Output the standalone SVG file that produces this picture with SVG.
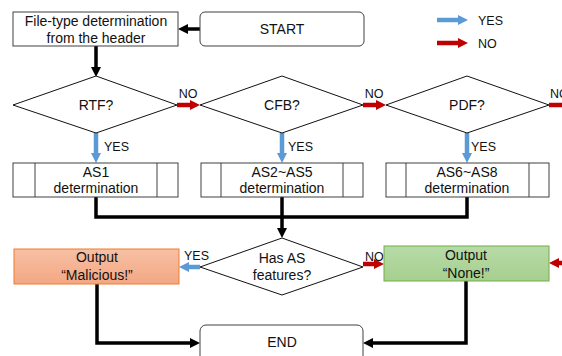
<svg xmlns="http://www.w3.org/2000/svg" width="562" height="356" viewBox="0 0 562 356">
<defs>
<style>
text{font-family:"Liberation Sans",Arial,sans-serif;fill:#111;text-anchor:middle}
.t{font-size:14px}
.l{font-size:12.5px}
.ls{text-anchor:start}
.box{fill:#fff;stroke:#404040;stroke-width:1}
.dia{fill:#fff;stroke:#111;stroke-width:1}
.blk{fill:none;stroke:#000;stroke-width:3.5;stroke-linejoin:miter}
.blue{stroke:#5B9BD5;stroke-width:4.5;fill:none}
.red{stroke:#C00000;stroke-width:4.5;fill:none}
</style>
<linearGradient id="gOr" x1="0" y1="0" x2="0" y2="1"><stop offset="0" stop-color="#F7C0A4"/><stop offset="1" stop-color="#F3A783"/></linearGradient>
<linearGradient id="gGr" x1="0" y1="0" x2="0" y2="1"><stop offset="0" stop-color="#B7DBA8"/><stop offset="1" stop-color="#A6CF8E"/></linearGradient>
<marker id="hb" viewBox="0 0 10 10" refX="0" refY="5" markerWidth="10" markerHeight="11" markerUnits="userSpaceOnUse" orient="auto"><path d="M0,0 L10,5 L0,10 z" fill="#5B9BD5"/></marker>
<marker id="hr" viewBox="0 0 10 10" refX="0" refY="5" markerWidth="10" markerHeight="11" markerUnits="userSpaceOnUse" orient="auto"><path d="M0,0 L10,5 L0,10 z" fill="#C00000"/></marker>
<marker id="hk" viewBox="0 0 10 10" refX="0" refY="5" markerWidth="10" markerHeight="11" markerUnits="userSpaceOnUse" orient="auto"><path d="M0,0 L10,5 L0,10 z" fill="#000"/></marker>
</defs>
<rect width="562" height="356" fill="#fff"/>

<g id="legend">
<line class="blue" x1="437" y1="20" x2="458" y2="20" marker-end="url(#hb)"/>
<text class="l ls" x="478" y="25">YES</text>
<line class="red" x1="437" y1="43" x2="458" y2="43" marker-end="url(#hr)"/>
<text class="l ls" x="478" y="48">NO</text>
</g>

<g id="connectors">
<line class="blk" x1="200" y1="29" x2="188" y2="29" marker-end="url(#hk)"/>
<line class="blk" x1="96" y1="46" x2="96" y2="67" marker-end="url(#hk)"/>
<line class="red" x1="177" y1="105" x2="190" y2="105" marker-end="url(#hr)"/>
<text class="l" x="188" y="98">NO</text>
<line class="red" x1="363" y1="105" x2="376" y2="105" marker-end="url(#hr)"/>
<text class="l" x="374" y="98">NO</text>
<line class="red" x1="549" y1="105" x2="562" y2="105"/>
<text class="l ls" x="550" y="98">NO</text>
<line class="blue" x1="96" y1="133" x2="96" y2="153" marker-end="url(#hb)"/>
<text class="l ls" x="104" y="151">YES</text>
<line class="blue" x1="282" y1="133" x2="282" y2="153" marker-end="url(#hb)"/>
<text class="l ls" x="288" y="151">YES</text>
<line class="blue" x1="467" y1="133" x2="467" y2="153" marker-end="url(#hb)"/>
<text class="l ls" x="471" y="151">YES</text>
<polyline class="blk" points="96,197 96,217 467,217 467,197"/>
<line class="blk" x1="282" y1="197" x2="282" y2="228" marker-end="url(#hk)"/>
<line class="blue" x1="200" y1="267" x2="189" y2="267" marker-end="url(#hb)"/>
<text class="l ls" x="184" y="260">YES</text>
<line class="red" x1="363" y1="264" x2="374" y2="264" marker-end="url(#hr)"/>
<text class="l ls" x="365" y="261">NO</text>
<line class="red" x1="562" y1="263" x2="559" y2="263" marker-end="url(#hr)"/>
<polyline class="blk" points="97,284 97,343 190,343" marker-end="url(#hk)"/>
<polyline class="blk" points="466,281 466,343 373,343" marker-end="url(#hk)"/>
</g>

<g id="start">
<rect class="box" x="200" y="12" width="164" height="34" rx="5" stroke="#222"/>
<text class="t" x="282" y="34">START</text>
</g>

<g id="filetype">
<rect class="box" x="13" y="12" width="165" height="34"/>
<text class="t" x="96" y="26">File-type determination</text>
<text class="t" x="96" y="43">from the header</text>
</g>

<g id="rtf">
<polygon class="dia" points="13,105 96,76 177,105 96,133"/>
<text class="t" x="96" y="110">RTF?</text>
</g>
<g id="cfb">
<polygon class="dia" points="200,105 282,76 363,105 282,133"/>
<text class="t" x="282" y="110">CFB?</text>
</g>
<g id="pdf">
<polygon class="dia" points="386,105 467,76 549,105 467,133"/>
<text class="t" x="467" y="110">PDF?</text>
</g>

<g id="as1">
<rect class="box" x="13" y="163" width="165" height="34"/>
<line class="box" x1="35" y1="163" x2="35" y2="197"/>
<line class="box" x1="157" y1="163" x2="157" y2="197"/>
<text class="t" x="96" y="177">AS1</text>
<text class="t" x="96" y="193">determination</text>
</g>
<g id="as2">
<rect class="box" x="201" y="163" width="162" height="34"/>
<line class="box" x1="221" y1="163" x2="221" y2="197"/>
<line class="box" x1="343" y1="163" x2="343" y2="197"/>
<text class="t" x="282" y="177">AS2~AS5</text>
<text class="t" x="282" y="193">determination</text>
</g>
<g id="as6">
<rect class="box" x="386" y="163" width="163" height="34"/>
<line class="box" x1="406" y1="163" x2="406" y2="197"/>
<line class="box" x1="529" y1="163" x2="529" y2="197"/>
<text class="t" x="467" y="177">AS6~AS8</text>
<text class="t" x="467" y="193">determination</text>
</g>

<g id="hasas">
<polygon class="dia" points="200,267 282,238 363,267 282,295"/>
<text class="t" x="282" y="263">Has AS</text>
<text class="t" x="282" y="280">features?</text>
</g>

<g id="malicious">
<rect x="14" y="249" width="165" height="35" fill="url(#gOr)" stroke="#ED7D31" stroke-width="1"/>
<text class="t" x="97" y="262">Output</text>
<text class="t" x="97" y="280">“Malicious!”</text>
</g>

<g id="none">
<rect x="384" y="246" width="165" height="35" fill="url(#gGr)" stroke="#70AD47" stroke-width="1"/>
<text class="t" x="466" y="260">Output</text>
<text class="t" x="466" y="278">“None!”</text>
</g>

<g id="end">
<rect class="box" x="200" y="325" width="163" height="40" rx="6" stroke="#222"/>
<text class="t" x="282" y="347">END</text>
</g>
</svg>
